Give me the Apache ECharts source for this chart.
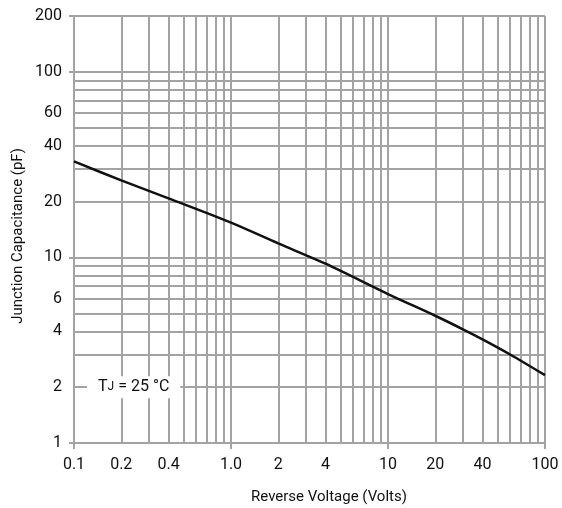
<!DOCTYPE html>
<html>
<head>
<meta charset="utf-8">
<script src="https://cdn.jsdelivr.net/npm/echarts@6/dist/echarts.min.js"></script>
<style>
html,body{margin:0;padding:0;background:#fff;}
#chart{width:562px;height:508px;}
</style>
</head>
<body>
<div id="chart"></div>
<script>
// Curve: reverse voltage (V) vs junction capacitance (pF)
const voltage = [0.1, 0.2, 0.4, 1, 2, 4, 10, 20, 30, 40, 60, 100];
const capacitance = [32.9, 26.0, 20.8, 15.4, 11.9, 9.25, 6.35, 4.85, 4.1, 3.62, 3.0, 2.32];

// Grid lines
const xGrid = [0.1,0.2,0.3,0.4,0.5,0.6,0.7,0.8,0.9,1,2,3,4,5,6,7,8,9,10,20,30,40,50,60,70,80,90,100];
const yGrid = [1,2,3,4,5,6,7,8,9,10,20,30,40,50,60,70,80,90,100,200];

// Tick labels
const xTickValues = [0.1, 0.2, 0.4, 1, 2, 4, 10, 20, 40, 100];
const xTickLabels = ['0.1', '0.2', '0.4', '1.0', '2', '4', '10', '20', '40', '100'];
const yTickValues = [1, 2, 4, 6, 10, 20, 40, 60, 100, 200];
const yTickLabels = ['1', '2', '4', '6', '10', '20', '40', '60', '100', '200'];

const xTitle = 'Reverse Voltage (Volts)';
const yTitle = 'Junction Capacitance (pF)';
const noteText = '{t|T}{s|J}{t| = 25 °C}';

const FONT = 'Roboto';
const TXT = '#111';
const GRIDC = '#a3a3a3';

const chart = echarts.init(document.getElementById('chart'), null, {renderer: 'canvas'});

const xLines = xGrid.map(v => {
  const i = xTickValues.indexOf(v);
  return {
    xAxis: v,
    label: i >= 0 ? {show: true, formatter: xTickLabels[i], distance: 14} : {show: false}
  };
});
const yLines = yGrid.map(v => {
  const i = yTickValues.indexOf(v);
  return {
    yAxis: v,
    label: i >= 0 ? {show: true, formatter: yTickLabels[i], distance: 12} : {show: false}
  };
});

const option = {
  animation: false,
  backgroundColor: '#fff',
  grid: {left: 74, right: 17, top: 16, bottom: 65, containLabel: false},
  xAxis: {
    type: 'log', logBase: 10, min: 0.1, max: 100,
    axisLine: {show: true, lineStyle: {color: GRIDC, width: 2}},
    axisTick: {show: true, length: 6, lineStyle: {color: GRIDC, width: 2}},
    axisLabel: {show: false},
    splitLine: {show: false},
    minorTick: {show: false}
  },
  yAxis: {
    type: 'log', logBase: 10, min: 1, max: 200,
    axisLine: {show: true, lineStyle: {color: GRIDC, width: 2}},
    axisTick: {show: true, length: 5, lineStyle: {color: GRIDC, width: 2}},
    axisLabel: {show: false},
    splitLine: {show: false}
  },
  graphic: [
    {type: 'text', x: 329, y: 497, silent: true,
     style: {text: xTitle, font: '15px ' + FONT, fill: TXT, textAlign: 'center', textVerticalAlign: 'middle'}},
    {type: 'text', x: 18, y: 236, rotation: Math.PI / 2, silent: true,
     style: {text: yTitle, font: '15px ' + FONT, fill: TXT, textAlign: 'center', textVerticalAlign: 'middle'}}
  ],
  series: [
    {
      type: 'line',
      name: 'grid',
      data: [],
      silent: true,
      z: 1,
      markLine: {
        silent: true,
        symbol: ['none', 'none'],
        z: 1,
        lineStyle: {color: GRIDC, width: 2, type: 'solid'},
        label: {position: 'start', color: TXT, fontFamily: FONT, fontSize: 16},
        emphasis: {disabled: true},
        data: xLines.concat(yLines)
      }
    },
    {
      type: 'line',
      name: 'Cj',
      data: voltage.map((v, i) => [v, capacitance[i]]),
      showSymbol: false,
      smooth: 0.3,
      z: 10,
      lineStyle: {color: TXT, width: 2.5},
      markPoint: {
        silent: true,
        z: 20,
        symbol: 'rect',
        symbolSize: 1,
        itemStyle: {color: 'rgba(0,0,0,0)'},
        label: {
          show: true,
          position: 'inside',
          formatter: noteText,
          backgroundColor: '#fff',
          padding: [3, 11, 3, 11],
          rich: {
            t: {fontFamily: FONT, fontSize: 16, color: TXT},
            s: {fontFamily: FONT, fontSize: 12, color: TXT}
          }
        },
        data: [{coord: [0.24, 2]}]
      }
    }
  ]
};
chart.setOption(option);
</script>
</body>
</html>
